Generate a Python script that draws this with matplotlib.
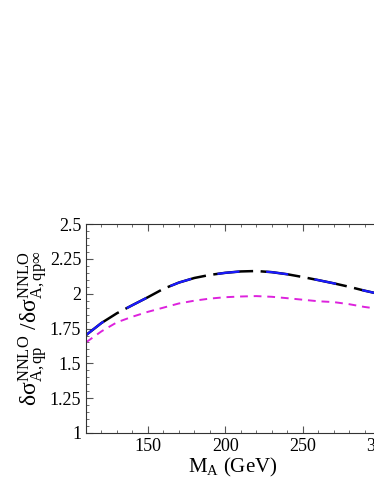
import numpy as np
import matplotlib.pyplot as plt
from matplotlib.ticker import MultipleLocator

plt.rcParams['font.family'] = ['Liberation Serif', 'DejaVu Serif']
plt.rcParams['mathtext.fontset'] = 'custom'
plt.rcParams['mathtext.rm'] = 'Liberation Serif'
plt.rcParams['mathtext.it'] = 'Liberation Serif'
plt.rcParams['mathtext.default'] = 'rm'

# M_A values (GeV)
mA = [110, 120, 130, 140, 150, 160, 170, 180, 190, 200,
      210, 220, 230, 240, 250, 260, 270, 280, 290, 300]
# ratio curves
black = [1.703, 1.79, 1.86, 1.918, 1.975, 2.035, 2.08, 2.113, 2.135, 2.150,
         2.160, 2.163, 2.155, 2.14, 2.12, 2.098, 2.075, 2.05, 2.022, 1.997]
blue = black
magenta = [1.651, 1.73, 1.795, 1.835, 1.87, 1.90, 1.93, 1.95, 1.965, 1.975,
           1.98, 1.983, 1.978, 1.968, 1.957, 1.946, 1.94, 1.925, 1.905, 1.89]

fig = plt.figure(figsize=(3.74, 4.84), dpi=100)
ax = fig.add_axes([0.23, 0.1054, 0.786, 0.4316])

ax.plot(mA, magenta, color='#dd22dd', lw=1.4, dashes=(4, 3))
ax.plot(mA, black, color='black', lw=1.8, dashes=(16, 3))
ax.plot(mA, blue, color='#1a1aff', lw=1.6, dashes=(10, 12), dash_capstyle='butt')

ax.set_xlim(110, 300)
ax.set_ylim(1, 2.5)
ax.xaxis.set_major_locator(MultipleLocator(50))
ax.xaxis.set_minor_locator(MultipleLocator(10))
ax.yaxis.set_minor_locator(MultipleLocator(0.05))
ax.set_yticks([1, 1.25, 1.5, 1.75, 2, 2.25, 2.5])
ax.set_yticklabels(['1', '1.25', '1.5', '1.75', '2', '2.25', '2.5'])
ax.tick_params(which='both', direction='in', top=True, right=False,
               color='#555555', labelsize=13)
ax.tick_params(which='major', length=5)
ax.tick_params(which='minor', length=2.5)
for s in ax.spines.values():
    s.set_color('#333333')

ax.set_xlabel(r'M$_\mathrm{A}$ (GeV)', fontsize=15, labelpad=1)
ax.set_ylabel(r'$\delta\sigma^{\mathrm{NNLO}}_{\mathrm{A,qp}}\ /\delta\sigma^{\mathrm{NNLO}}_{\mathrm{A,qp\infty}}$',
              fontsize=17, labelpad=0)

fig.savefig('out.png', dpi=100)
